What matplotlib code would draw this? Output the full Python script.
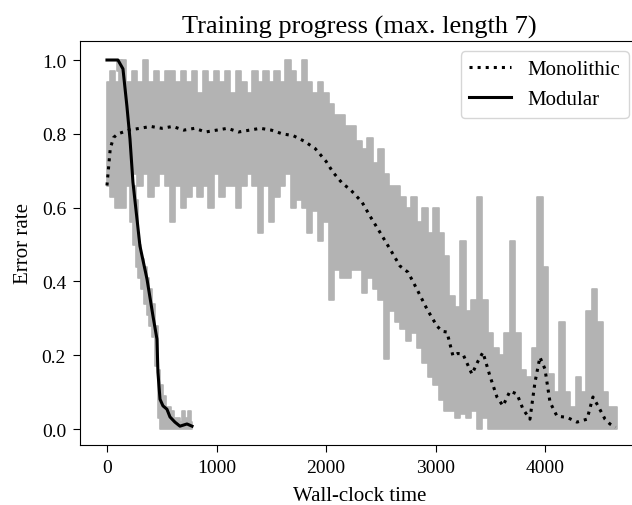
import numpy as np
import matplotlib
matplotlib.use("Agg")
import matplotlib.pyplot as plt

plt.rcParams['font.family'] = ['Liberation Serif', 'DejaVu Serif']

# ---- data ----
# Raw monolithic error rate, summarised per 50-unit time bin (max / min of the noisy trace)
mono_bin_time = np.arange(0, 4700, 50)
mono_raw_high = [
    0.94, 0.97, 0.94, 1.00, 0.94, 0.97, 0.94, 1.00, 0.94, 0.97,
    0.94, 0.97, 0.97, 0.94, 0.97, 0.94, 0.97, 0.91, 0.97, 0.94,
    0.97, 0.94, 0.97, 0.91, 0.97, 0.94, 0.91, 0.97, 0.94, 0.97,
    0.94, 0.97, 0.94, 1.00, 0.97, 0.94, 1.00, 0.94, 0.91, 0.94,
    0.91, 0.88, 0.85, 0.85, 0.82, 0.82, 0.78, 0.76, 0.79, 0.72,
    0.76, 0.69, 0.66, 0.66, 0.63, 0.60, 0.63, 0.56, 0.60, 0.53,
    0.60, 0.53, 0.47, 0.36, 0.33, 0.51, 0.32, 0.35, 0.63, 0.35,
    0.26, 0.22, 0.20, 0.26, 0.51, 0.26, 0.16, 0.14, 0.22, 0.63,
    0.44, 0.15, 0.10, 0.29, 0.10, 0.06, 0.14, 0.10, 0.32, 0.38,
    0.29, 0.10, 0.06, 0.06,
]
mono_raw_low = [
    0.66, 0.63, 0.60, 0.60, 0.66, 0.69, 0.66, 0.69, 0.63, 0.66,
    0.69, 0.66, 0.56, 0.66, 0.60, 0.63, 0.66, 0.63, 0.66, 0.60,
    0.69, 0.63, 0.66, 0.66, 0.60, 0.66, 0.69, 0.66, 0.53, 0.66,
    0.56, 0.63, 0.66, 0.69, 0.60, 0.62, 0.60, 0.53, 0.59, 0.51,
    0.56, 0.35, 0.43, 0.41, 0.41, 0.43, 0.43, 0.37, 0.41, 0.38,
    0.35, 0.19, 0.32, 0.29, 0.27, 0.24, 0.26, 0.22, 0.18, 0.14,
    0.12, 0.08, 0.05, 0.05, 0.03, 0.04, 0.03, 0.05, 0.00, 0.03,
    0.00, 0.00, 0.00, 0.00, 0.00, 0.00, 0.00, 0.00, 0.00, 0.00,
    0.00, 0.00, 0.00, 0.00, 0.00, 0.00, 0.00, 0.00, 0.00, 0.00,
    0.00, 0.00, 0.00, 0.00,
]

# Raw modular error rate, per 25-unit time bin
mod_bin_time = np.arange(0, 800, 25)
mod_raw_high = [1.00, 1.00, 1.00, 1.00, 1.00, 1.00, 0.97, 0.91, 0.84, 0.72,
                0.66, 0.62, 0.50, 0.46, 0.44, 0.41, 0.38, 0.34, 0.28, 0.16,
                0.12, 0.09, 0.06, 0.06, 0.05, 0.03, 0.03, 0.02, 0.05, 0.03,
                0.05, 0.02]
mod_raw_low = [1.00, 1.00, 1.00, 1.00, 0.97, 0.94, 0.84, 0.75, 0.69, 0.56,
               0.50, 0.44, 0.41, 0.38, 0.34, 0.31, 0.28, 0.25, 0.17, 0.03,
               0.00, 0.00, 0.00, 0.00, 0.00, 0.00, 0.00, 0.00, 0.00, 0.00,
               0.00, 0.00]

# Smoothed curves
mono_smooth_time = [0, 30, 60, 100, 200, 300, 400, 500, 600, 700, 800, 900,
                    1000, 1100, 1200, 1300, 1400, 1500, 1600, 1700, 1800,
                    1900, 2000, 2062, 2150, 2217, 2327, 2400, 2491, 2582,
                    2673, 2747, 2828, 2920, 3011, 3060, 3102, 3157, 3200,
                    3248, 3330, 3385, 3430, 3494, 3558, 3613, 3677, 3741,
                    3796, 3859, 3905, 3950, 3996, 4042, 4106, 4197, 4288,
                    4380, 4434, 4480, 4544, 4589, 4640]
mono_smooth = [0.66, 0.76, 0.79, 0.80, 0.81, 0.815, 0.82, 0.815, 0.82, 0.81,
               0.815, 0.805, 0.81, 0.815, 0.805, 0.81, 0.815, 0.81, 0.80,
               0.795, 0.78, 0.76, 0.725, 0.696, 0.665, 0.650, 0.615, 0.577,
               0.533, 0.488, 0.442, 0.425, 0.379, 0.325, 0.279, 0.265,
               0.263, 0.198, 0.205, 0.203, 0.149, 0.184, 0.208, 0.144,
               0.087, 0.063, 0.103, 0.095, 0.054, 0.027, 0.127, 0.195,
               0.163, 0.073, 0.035, 0.032, 0.019, 0.027, 0.087, 0.063,
               0.027, 0.014, 0.005]

mod_smooth_time = [0, 100, 146, 182, 210, 237, 274, 301, 365, 420, 456, 465,
                   484, 511, 547, 575, 620, 666, 730, 776]
mod_smooth = [1.0, 1.0, 0.976, 0.875, 0.786, 0.669, 0.569, 0.496, 0.407,
              0.306, 0.244, 0.154, 0.081, 0.063, 0.054, 0.033, 0.019, 0.008,
              0.014, 0.008]

# ---- plot ----
fig = plt.figure(figsize=(6.32, 5.06), dpi=100)
ax = fig.add_axes([80 / 632, 1 - 446 / 506, 559 / 632, 404 / 506])

gray = '#b3b3b3'
ax.fill_between(mono_bin_time, mono_raw_low, mono_raw_high, step='mid',
                facecolor=gray, edgecolor=gray, lw=1.2, zorder=1)
ax.fill_between(mod_bin_time, mod_raw_low, mod_raw_high, step='mid',
                facecolor=gray, edgecolor=gray, lw=1.2, zorder=1)
ax.plot(mono_smooth_time, mono_smooth, color='black', ls=':', lw=2.2,
        label='Monolithic', zorder=3)
ax.plot(mod_smooth_time, mod_smooth, color='black', ls='-', lw=2.2,
        label='Modular', zorder=3)

ax.set_xlim(-246, 4854)
ax.set_ylim(-0.043, 1.0515)
ax.set_xticks([0, 1000, 2000, 3000, 4000])
ax.set_yticks([0.0, 0.2, 0.4, 0.6, 0.8, 1.0])
ax.tick_params(labelsize=14, length=5, pad=5)
ax.set_xlabel('Wall-clock time', fontsize=15, labelpad=7)
ax.set_ylabel('Error rate', fontsize=15, labelpad=6)
ax.set_title('Training progress (max. length 7)', fontsize=19)
ax.legend(loc='upper right', fontsize=15)

fig.savefig('out.png', dpi=100)
